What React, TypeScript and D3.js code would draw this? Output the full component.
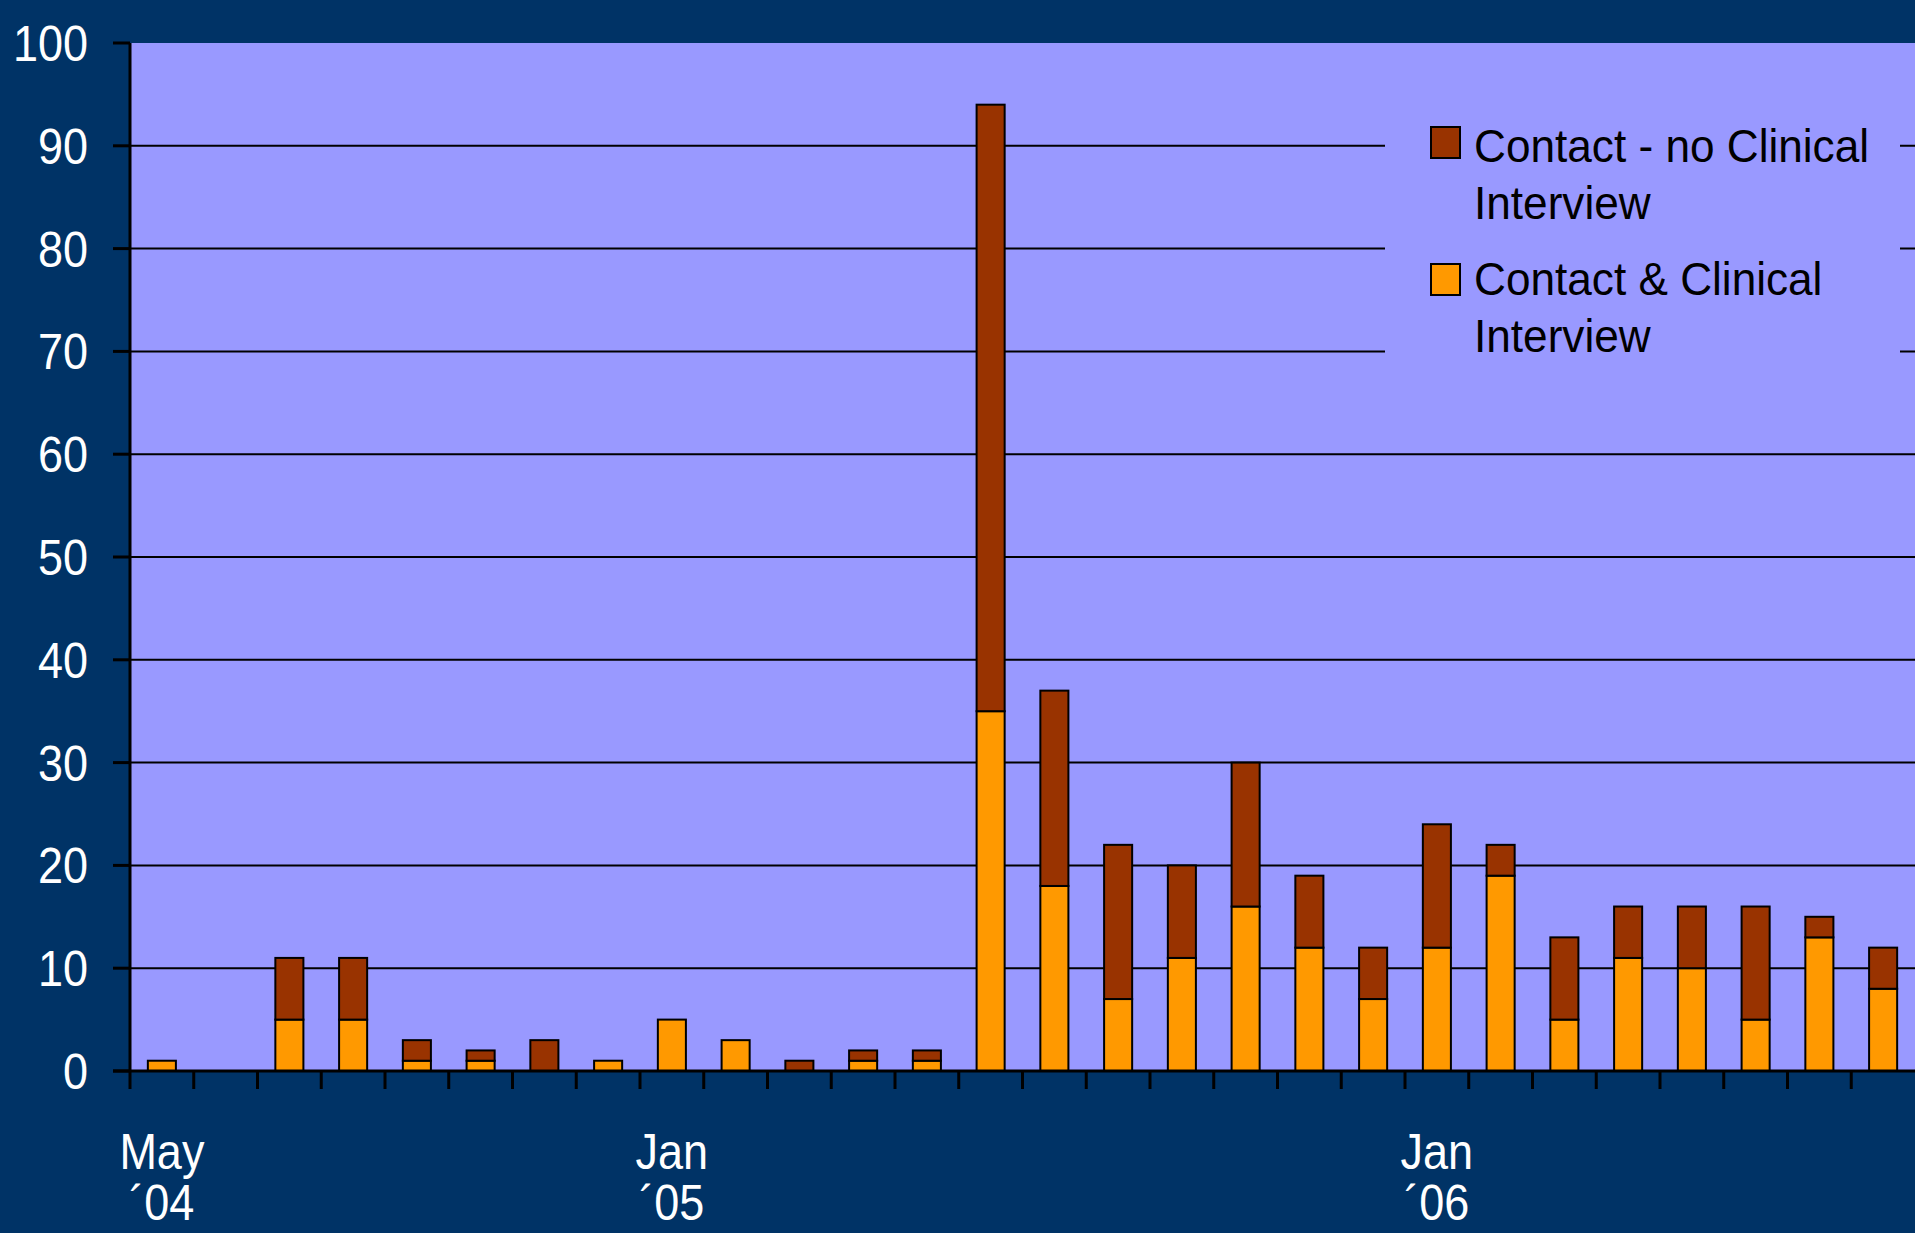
import React, { useEffect, useRef } from 'react';
import * as d3 from 'd3';

// months from May '04 to Aug '06
const months = [
  '2004-05', '2004-06', '2004-07', '2004-08', '2004-09', '2004-10', '2004-11', '2004-12',
  '2005-01', '2005-02', '2005-03', '2005-04', '2005-05', '2005-06', '2005-07', '2005-08',
  '2005-09', '2005-10', '2005-11', '2005-12', '2006-01', '2006-02', '2006-03', '2006-04',
  '2006-05', '2006-06', '2006-07', '2006-08',
];

// Contact & Clinical Interview (bottom, orange)
const clinical = [1, 0, 5, 5, 1, 1, 0, 1, 5, 3, 0, 1, 1, 35, 18, 7, 11, 16, 12, 7, 12, 19, 5, 11, 10, 5, 13, 8];
// Contact - no Clinical Interview (top, brown)
const noClinical = [0, 0, 6, 6, 2, 1, 3, 0, 0, 0, 1, 1, 1, 59, 19, 15, 9, 14, 7, 5, 12, 3, 8, 5, 6, 11, 2, 4];

const xLabels: { [k: string]: [string, string] } = {
  '2004-05': ['May', '´04'],
  '2005-01': ['Jan', '´05'],
  '2006-01': ['Jan', '´06'],
};

const yTicks = [0, 10, 20, 30, 40, 50, 60, 70, 80, 90, 100];

const legendItems = [
  { key: 'noClinical', lines: ['Contact - no Clinical', 'Interview'], color: '#993300' },
  { key: 'clinical', lines: ['Contact & Clinical', 'Interview'], color: '#FF9900' },
];

const App = () => {
  const ref = useRef<SVGSVGElement>(null);

  useEffect(() => {
    const W = 1915;
    const H = 1233;
    const left = 130;
    const right = 1915;
    const top = 43;
    const bottom = 1071;
    const font = '"Liberation Sans", Arial, sans-serif';

    const svg = d3.select(ref.current);
    svg.selectAll('*').remove();
    svg.attr('width', W).attr('height', H);

    svg.append('rect').attr('width', W).attr('height', H).attr('fill', '#003366');
    svg.append('rect')
      .attr('x', left).attr('y', top)
      .attr('width', right - left).attr('height', bottom - top)
      .attr('fill', '#9999FF');

    const x = d3.scaleBand().domain(months).range([left, right]).paddingInner(0.56).paddingOuter(0.28);
    const xb = d3.scaleBand().domain(months).range([left, right]);
    const y = d3.scaleLinear().domain([0, 100]).range([bottom, top]);

    // gridlines
    svg.append('g')
      .selectAll('line')
      .data(yTicks.filter(d => d > 0 && d < 100))
      .join('line')
      .attr('x1', left).attr('x2', right)
      .attr('y1', d => y(d)).attr('y2', d => y(d))
      .attr('stroke', '#000').attr('stroke-width', 2);

    // legend box covers gridlines
    svg.append('rect')
      .attr('x', 1385).attr('y', 95).attr('width', 515).attr('height', 305)
      .attr('fill', '#9999FF');

    const lg = svg.append('g').attr('font-family', font).attr('font-size', 46).attr('fill', '#000');
    legendItems.forEach((item, i) => {
      lg.append('rect')
        .attr('x', 1431).attr('y', 127 + i * 137).attr('width', 29).attr('height', 31)
        .attr('fill', item.color).attr('stroke', '#000').attr('stroke-width', 2);
      item.lines.forEach((ln, j) => {
        lg.append('text')
          .attr('transform', `translate(1474,${162 + i * 133 + j * 56.5}) scale(0.96,1)`)
          .text(ln);
      });
    });

    // stacked bars
    const rows = months.map((m, i) => ({ month: m, clinical: clinical[i], noClinical: noClinical[i] }));
    const stack = d3.stack<any>().keys(['clinical', 'noClinical'])(rows);
    const colors: { [k: string]: string } = { clinical: '#FF9900', noClinical: '#993300' };

    svg.append('g')
      .selectAll('g')
      .data(stack)
      .join('g')
      .attr('fill', d => colors[d.key])
      .selectAll('rect')
      .data(d => d.filter(s => s[1] - s[0] > 0))
      .join('rect')
      .attr('x', d => x(d.data.month) as number)
      .attr('width', x.bandwidth())
      .attr('y', d => y(d[1]))
      .attr('height', d => y(d[0]) - y(d[1]))
      .attr('stroke', '#000')
      .attr('stroke-width', 2);

    // axes
    svg.append('line')
      .attr('x1', left).attr('x2', left).attr('y1', top).attr('y2', bottom)
      .attr('stroke', '#000').attr('stroke-width', 3);
    svg.append('line')
      .attr('x1', left - 17).attr('x2', right).attr('y1', bottom).attr('y2', bottom)
      .attr('stroke', '#000').attr('stroke-width', 3);

    // y ticks + labels
    const yg = svg.append('g');
    yg.selectAll('line')
      .data(yTicks)
      .join('line')
      .attr('x1', left - 17).attr('x2', left)
      .attr('y1', d => y(d)).attr('y2', d => y(d))
      .attr('stroke', '#000').attr('stroke-width', 3);
    yg.selectAll('text')
      .data(yTicks)
      .join('text')
      .attr('transform', d => `translate(88,${y(d) + 18}) scale(0.9,1)`)
      .attr('text-anchor', 'end')
      .attr('font-family', font)
      .attr('font-size', 50)
      .attr('fill', '#fff')
      .text(d => d);

    // x ticks at month boundaries
    svg.append('g')
      .selectAll('line')
      .data(months)
      .join('line')
      .attr('x1', d => xb(d) as number).attr('x2', d => xb(d) as number)
      .attr('y1', bottom).attr('y2', bottom + 18)
      .attr('stroke', '#000').attr('stroke-width', 3);

    // x labels
    const xl = svg.append('g')
      .attr('font-family', font).attr('font-size', 50).attr('fill', '#fff');
    months.filter(m => xLabels[m]).forEach(m => {
      const cx = (xb(m) as number) + xb.bandwidth() / 2;
      xLabels[m].forEach((t, j) => {
        xl.append('text')
          .attr('transform', `translate(${cx},${1169 + j * 51}) scale(0.9,1)`)
          .attr('text-anchor', 'middle')
          .text(t);
      });
    });
  }, []);

  return (
    <svg ref={ref} style={{ position: 'absolute', left: 0, top: 0, display: 'block' }}></svg>
  );
};

export default App;
